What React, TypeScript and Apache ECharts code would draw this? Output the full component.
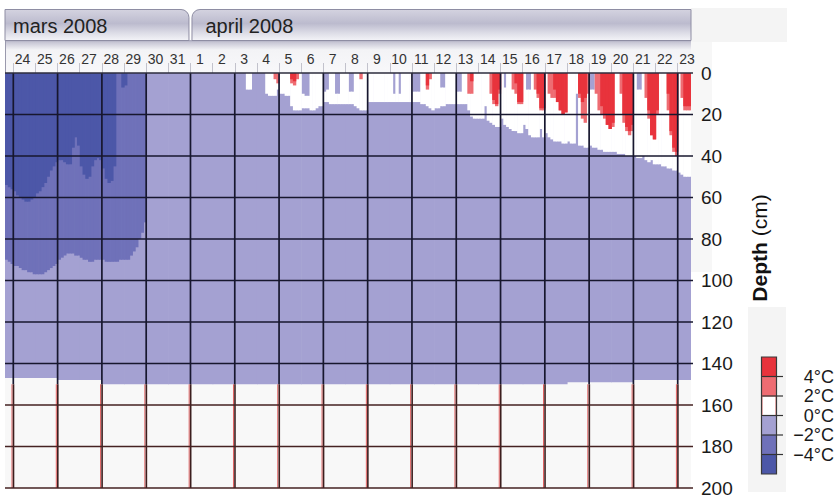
import React, { useEffect, useRef } from "react";
import * as echarts from "echarts";

const FONT = "'Liberation Sans', Arial, Helvetica, sans-serif";

// Time unit: days since 2008-03-24 00:00. Depth unit: cm.
const X_MIN = -0.375;
const X_MAX = 30.6;
const STEP = 0.125; // 3-hour slots
const DATA_DEPTH = 150;

// ---- axis / tick labels ----
const dayLabels = ["24","25","26","27","28","29","30","31","1","2","3","4","5","6","7","8","9","10","11","12","13","14","15","16","17","18","19","20","21","22","23"];
const monthLabels = ["mars 2008", "april 2008"];
const monthStarts = [-23, 8];
const monthEnds = [8, 38];
const gridDays = [0, 2, 4, 6, 8, 10, 12, 14, 16, 18, 20, 22, 24, 26, 28, 30];
const depthTicks = [0, 20, 40, 60, 80, 100, 120, 140, 160, 180, 200];
const legendLabels = ["4°C", "2°C", "0°C", "−2°C", "−4°C"];

// ---- measured profile bottom per day (Mar 23 .. Apr 23) ----
const bottomStart = -1;
const dataBottom = [
  147, 147, 147, 148, 148, // Mar 23-27
  150, 150, 150, 150, 150, 150, 150, 150, 150, 150, 150, // Mar 28 - Apr 7
  150, 150, 150, 150, 150, 150, 150, 150, 150, 150, // Apr 8-17
  149, 149, 149, 148, 148, 148, // Apr 18-23
];

// ---- cold period, 3h slots from Mar 23 12:00 ----
const coldStart = -0.5;
// bottom of the layer colder than -4 °C
const veryColdDepth = [
  54, 54, 55, 56, 57, 59, 60, 61, 62, 62,
  61, 60, 58, 57, 55, 53, 50, 47, 45, 43,
  42, 42, 43, 44, 44, 36, 31, 35, 45, 49,
  51, 50, 45, 42, 41, 42, 46, 51, 53, 52,
  45, 0, 0, 7, 6, 0, 0, 0, 0, 0,
  0, 0, 0, 0,
];
// bottom of the layer colder than -2 °C
const coldDepth = [
  90, 90, 91, 92, 93, 93, 94, 95, 95, 96,
  96, 97, 97, 97, 97, 96, 95, 94, 93, 92,
  90, 89, 88, 87, 87, 87, 88, 88, 89, 90,
  90, 91, 91, 90, 90, 90, 90, 91, 91, 91,
  91, 91, 90, 90, 90, 90, 88, 86, 84, 80,
  77, 72, 0, 0,
];

// ---- thaw period, 3h slots from Apr 3 00:00 (8 per day) ----
const warmStart = 10;
// refrozen surface layer (below 0 °C) thickness
const frostDepth = [
  0, 0, 0, 0, 0, 0, 0, 0, // Apr 3
  0, 0, 0, 0, 0, 0, 0, 0, // Apr 4
  0, 0, 0, 0, 0, 0, 0, 0, // Apr 5
  10, 11, 11, 0, 0, 0, 0, 0, // Apr 6
  9, 8, 0, 0, 10, 10, 0, 0, // Apr 7
  0, 9, 9, 0, 0, 0, 0, 0, // Apr 8
  0, 0, 0, 0, 0, 0, 0, 0, // Apr 9
  0, 10, 0, 10, 0, 0, 0, 0, // Apr 10
  9, 9, 9, 0, 0, 0, 0, 0, // Apr 11
  0, 0, 7, 7, 0, 0, 0, 0, // Apr 12
  9, 9, 0, 0, 0, 0, 0, 0, // Apr 13
  0, 0, 0, 0, 0, 0, 0, 0, // Apr 14
  0, 7, 0, 0, 0, 0, 0, 0, // Apr 15
  0, 8, 8, 0, 0, 0, 0, 0, // Apr 16
  0, 0, 0, 0, 0, 0, 0, 0, // Apr 17
  0, 0, 0, 0, 0, 0, 0, 0, // Apr 18
  8, 8, 0, 0, 0, 0, 0, 0, // Apr 19
  0, 0, 0, 0, 0, 0, 0, 0, // Apr 20
  0, 8, 8, 0, 0, 0, 0, 0, // Apr 21
  0, 0, 0, 0, 0, 0, 0, 0, // Apr 22
  0, 0, 0, 0, 0, // Apr 23
];
// bottom of the thawed (>= 0 °C) layer
const thawDepth = [
  0, 0, 0, 0, 8, 8, 0, 0, // Apr 3
  0, 0, 0, 10, 11, 11, 11, 8, // Apr 4
  10, 10, 11, 11, 16, 18, 18, 18, // Apr 5
  17, 17, 17, 18, 18, 17, 16, 16, // Apr 6
  14, 14, 15, 15, 15, 15, 15, 15, // Apr 7
  15, 15, 15, 16, 17, 18, 18, 18, // Apr 8
  14, 14, 14, 14, 14, 14, 14, 14, // Apr 9
  14, 14, 14, 14, 14, 14, 14, 14, // Apr 10
  14, 14, 14, 15, 15, 16, 17, 18, // Apr 11
  17, 17, 16, 16, 15, 15, 15, 15, // Apr 12
  15, 15, 15, 15, 18, 21, 22, 22, // Apr 13
  22, 22, 16, 23, 24, 25, 26, 26, // Apr 14
  22, 25, 26, 27, 28, 28, 29, 29, // Apr 15
  25, 27, 30, 31, 31, 31, 27, 31, // Apr 16
  29, 31, 32, 33, 33, 33, 34, 34, // Apr 17
  33, 34, 34, 10, 35, 35, 36, 36, // Apr 18
  35, 36, 36, 37, 37, 38, 38, 38, // Apr 19
  38, 38, 39, 39, 39, 40, 40, 40, // Apr 20
  40, 41, 41, 40, 42, 43, 42, 44, // Apr 21
  44, 44, 45, 45, 46, 46, 47, 47, // Apr 22
  48, 49, 50, 50, 50, // Apr 23
];
// bottom of the layer warmer than 2 °C
const warmDepth = [
  0, 0, 0, 0, 0, 0, 0, 0, // Apr 3
  0, 0, 0, 0, 0, 0, 3, 5, // Apr 4
  0, 0, 0, 0, 5, 6, 3, 0, // Apr 5
  0, 0, 0, 0, 0, 0, 0, 0, // Apr 6
  0, 0, 0, 0, 0, 0, 0, 0, // Apr 7
  0, 0, 0, 0, 0, 3, 0, 0, // Apr 8
  0, 0, 0, 0, 0, 0, 0, 0, // Apr 9
  0, 0, 0, 0, 0, 0, 0, 0, // Apr 10
  0, 0, 0, 0, 0, 8, 3, 0, // Apr 11
  0, 0, 0, 0, 0, 0, 0, 0, // Apr 12
  0, 0, 0, 0, 10, 10, 0, 0, // Apr 13
  0, 0, 0, 0, 10, 15, 16, 10, // Apr 14
  0, 0, 0, 0, 8, 10, 15, 15, // Apr 15
  0, 0, 0, 0, 8, 12, 18, 18, // Apr 16
  0, 10, 12, 12, 14, 18, 20, 19, // Apr 17
  0, 0, 0, 0, 12, 22, 24, 10, // Apr 18
  0, 0, 10, 18, 20, 22, 25, 27, // Apr 19
  26, 0, 0, 10, 24, 28, 30, 28, // Apr 20
  0, 0, 0, 0, 12, 22, 30, 32, // Apr 21
  20, 0, 0, 0, 18, 30, 38, 40, // Apr 22
  0, 12, 18, 18, 18, // Apr 23
];
// bottom of the layer warmer than 4 °C
const hotDepth = [
  0, 0, 0, 0, 0, 0, 0, 0, // Apr 3
  0, 0, 0, 0, 0, 0, 0, 0, // Apr 4
  0, 0, 0, 0, 3, 4, 0, 0, // Apr 5
  0, 0, 0, 0, 0, 0, 0, 0, // Apr 6
  0, 0, 0, 0, 0, 0, 0, 0, // Apr 7
  0, 0, 0, 0, 0, 0, 0, 0, // Apr 8
  0, 0, 0, 0, 0, 0, 0, 0, // Apr 9
  0, 0, 0, 0, 0, 0, 0, 0, // Apr 10
  0, 0, 0, 0, 0, 6, 0, 0, // Apr 11
  0, 0, 0, 0, 0, 0, 0, 0, // Apr 12
  0, 0, 0, 0, 0, 4, 0, 0, // Apr 13
  0, 0, 0, 0, 0, 13, 15, 8, // Apr 14
  0, 0, 0, 0, 0, 5, 14, 14, // Apr 15
  0, 0, 0, 0, 0, 10, 17, 17, // Apr 16
  0, 0, 0, 8, 14, 18, 20, 19, // Apr 17
  0, 0, 0, 0, 10, 14, 12, 0, // Apr 18
  0, 0, 0, 0, 16, 20, 25, 27, // Apr 19
  24, 0, 0, 0, 20, 26, 28, 25, // Apr 20
  0, 0, 0, 0, 0, 18, 30, 32, // Apr 21
  18, 0, 0, 0, 10, 28, 36, 38, // Apr 22
  0, 0, 16, 16, 16, // Apr 23
];

const C_HOT = "#e8333c";
const C_WARM = "#ee6c72";
const C_THAW = "#ffffff";
const C_FROST = "#a4a1d2";
const C_COLD = "#6f71b9";
const C_VCOLD = "#4c57a8";
const legendColors = [C_HOT, C_WARM, C_THAW, C_FROST, C_COLD, C_VCOLD];

function slotItems(start: number, bottoms: number[], tops?: number[]) {
  const out: number[][] = [];
  bottoms.forEach((b, i) => {
    const top = tops ? tops[i] : 0;
    if (b > top) out.push([start + i * STEP, start + (i + 1) * STEP, top, b]);
  });
  return out;
}

function rectRender(color: string) {
  return (_p: any, api: any) => {
    const t0 = Math.max(api.value(0), X_MIN);
    const t1 = Math.min(api.value(1), X_MAX);
    if (t1 <= t0) return null;
    const a = api.coord([t0, api.value(2)]);
    const b = api.coord([t1, api.value(3)]);
    const right = api.coord([X_MAX, 0])[0];
    const w = Math.min(b[0] + 0.6, right) - a[0];
    return {
      type: "rect",
      shape: { x: a[0], y: a[1], width: w, height: b[1] - a[1] },
      style: { fill: color },
    };
  };
}

function layer(data: number[][], color: string, z: number) {
  return {
    type: "custom",
    data,
    z,
    silent: true,
    clip: false,
    encode: { x: [0, 1], y: [2, 3] },
    renderItem: rectRender(color),
  };
}

export default function App() {
  const ref = useRef<HTMLDivElement>(null);

  useEffect(() => {
    const chart = echarts.init(ref.current!, null, { renderer: "svg" });

    const baseData = dataBottom.map((b, i) => [bottomStart + i, bottomStart + i + 1, 0, b]);

    const tabFill = new echarts.graphic.LinearGradient(0, 0, 0, 1, [
      { offset: 0, color: "#d4d3e0" },
      { offset: 0.45, color: "#bcbbce" },
      { offset: 0.75, color: "#dcdce6" },
      { offset: 1, color: "#f4f4f8" },
    ]);

    const legendTop = 357;
    const blockH = 19.5;
    const legendGraphics: any[] = [
      { type: "rect", shape: { x: 748, y: 307, width: 38, height: 185 }, style: { fill: "#f4f4f4" }, z: -1 },
      { type: "rect", shape: { x: 691, y: 8, width: 96, height: 34 }, style: { fill: "#f4f4f4" }, z: -1 },
      { type: "rect", shape: { x: 691, y: 42, width: 21, height: 230 }, style: { fill: "#f7f7f7" }, z: -1 },
      {
        type: "rect",
        shape: { x: 5, y: 40, width: 686, height: 33 },
        style: {
          fill: new echarts.graphic.LinearGradient(0, 0, 0, 1, [
            { offset: 0, color: "#a9a8bd" },
            { offset: 0.08, color: "#c9c8d6" },
            { offset: 0.3, color: "#f3f3f6" },
            { offset: 1, color: "#f8f8fa" },
          ]),
        },
        z: -1,
      },
      { type: "line", shape: { x1: 5.5, y1: 9, x2: 5.5, y2: 73 }, style: { stroke: "#9a99ad", lineWidth: 1 } },
    ];
    legendColors.forEach((c, i) => {
      legendGraphics.push({
        type: "rect",
        shape: { x: 762, y: legendTop + i * blockH, width: 14, height: blockH },
        style: c === C_THAW ? { fill: c, stroke: "#e26868", lineWidth: 1 } : { fill: c },
      });
    });
    legendGraphics.push({
      type: "rect",
      shape: { x: 761.5, y: legendTop, width: 15, height: blockH * 6 },
      style: { fill: "none", stroke: "#3a3a3a", lineWidth: 1.2 },
    });
    legendLabels.forEach((lab, i) => {
      const y = legendTop + (i + 1) * blockH;
      legendGraphics.push({
        type: "line",
        shape: { x1: 762, y1: y, x2: 783, y2: y },
        style: { stroke: "#333", lineWidth: 1.2 },
      });
      legendGraphics.push({
        type: "text",
        x: 834,
        y,
        style: {
          text: lab,
          font: `18px ${FONT}`,
          fill: "#1a1a1a",
          align: "right",
          verticalAlign: "middle",
          textAlign: "right",
          textVerticalAlign: "middle",
        },
      });
    });
    legendGraphics.push({
      type: "text",
      x: 759,
      y: 248,
      rotation: Math.PI / 2,
      style: {
        text: "{b|Depth} (cm)",
        font: `21px ${FONT}`,
        fontSize: 21,
        fontFamily: FONT,
        fill: "#111",
        align: "center",
        verticalAlign: "middle",
        textAlign: "center",
        textVerticalAlign: "middle",
        rich: {
          b: { fontWeight: "bold", fontSize: 21, fontFamily: FONT, fill: "#111", color: "#111" },
        },
      },
    });

    const option: any = {
      animation: false,
      backgroundColor: "#ffffff",
      textStyle: { fontFamily: FONT },
      graphic: legendGraphics,
      grid: {
        left: 5,
        top: 73,
        width: 686,
        height: 415,
        show: true,
        backgroundColor: "#f8f8f8",
        borderWidth: 0,
        containLabel: false,
        outerBoundsMode: "none",
      },
      xAxis: {
        type: "value",
        min: X_MIN,
        max: X_MAX,
        position: "top",
        axisLine: { show: false },
        splitLine: { show: false },
        axisTick: {
          show: true,
          customValues: dayLabels.map((_, i) => i),
          length: 10,
          inside: false,
          lineStyle: { color: "#c2c2cc", width: 1 },
        },
        axisLabel: {
          customValues: dayLabels.map((_, i) => i + 0.42),
          formatter: (v: number) => dayLabels[Math.round(v - 0.42)] ?? "",
          fontSize: 14,
          fontFamily: FONT,
          color: "#333",
          margin: 7,
          showMinLabel: true,
          showMaxLabel: true,
          hideOverlap: false,
        },
      },
      yAxis: {
        type: "value",
        inverse: true,
        min: 0,
        max: 200,
        interval: 20,
        position: "right",
        axisLine: { show: false },
        axisTick: { show: false },
        splitLine: { show: false },
        axisLabel: { fontSize: 19, fontFamily: FONT, color: "#1a1a1a", margin: 10 },
      },
      series: [
        layer(baseData, C_FROST, 1),
        layer(slotItems(coldStart, coldDepth), C_COLD, 2),
        layer(slotItems(coldStart, veryColdDepth), C_VCOLD, 3),
        layer(slotItems(warmStart, thawDepth, frostDepth), C_THAW, 4),
        layer(slotItems(warmStart, warmDepth), C_WARM, 5),
        layer(slotItems(warmStart, hotDepth), C_HOT, 6),
        {
          type: "custom",
          z: 10,
          silent: true,
          clip: false,
          data: depthTicks.map((d) => [X_MIN, X_MAX, d]),
          encode: { x: [0, 1], y: 2 },
          renderItem: (_p: any, api: any) => {
            const d = api.value(2);
            const a = api.coord([X_MIN, d]);
            const b = api.coord([X_MAX, d]);
            const color = d === 0 ? "#2c2c3c" : d <= DATA_DEPTH ? "#17172e" : "#452222";
            return {
              type: "line",
              shape: { x1: a[0], y1: a[1], x2: b[0] + 2, y2: b[1] },
              style: { stroke: color, lineWidth: 1.7 },
            };
          },
        },
        {
          type: "custom",
          z: 9,
          silent: true,
          clip: false,
          data: gridDays.map((t) => [t, 0, 200]),
          encode: { x: 0, y: [1, 2] },
          renderItem: (_p: any, api: any) => {
            const t = api.value(0);
            const top = api.coord([t, 0]);
            const mid = api.coord([t, DATA_DEPTH]);
            const bot = api.coord([t, 200]);
            return {
              type: "group",
              children: [
                { type: "line", shape: { x1: top[0], y1: top[1], x2: mid[0], y2: mid[1] }, style: { stroke: "#17172e", lineWidth: 1.7 } },
                { type: "line", shape: { x1: mid[0] - 1.3, y1: mid[1], x2: bot[0] - 1.3, y2: bot[1] }, style: { stroke: "#e06060", lineWidth: 1 } },
                { type: "line", shape: { x1: mid[0] + 0.2, y1: mid[1], x2: bot[0] + 0.2, y2: bot[1] }, style: { stroke: "#3c1e1e", lineWidth: 1.6 } },
              ],
            };
          },
        },
        {
          type: "custom",
          z: 12,
          silent: true,
          clip: false,
          data: monthLabels.map((_, i) => [monthStarts[i], monthEnds[i], i]),
          encode: { x: [0, 1] },
          renderItem: (_p: any, api: any) => {
            const i = api.value(2);
            const xl = api.coord([X_MIN, 0])[0];
            const xr = api.coord([X_MAX, 0])[0];
            const s = api.value(0);
            const a = Math.max(api.coord([s, 0])[0], xl);
            const b = Math.min(api.coord([api.value(1), 0])[0], xr);
            const clipped = s < X_MIN;
            const x0 = clipped ? a : a + 1.5;
            const x1 = b < xr ? b - 1.5 : b;
            return {
              type: "group",
              children: [
                {
                  type: "rect",
                  shape: { x: x0, y: 9.5, width: x1 - x0, height: 31, r: clipped ? [0, 8, 0, 0] : [8, 0, 0, 0] },
                  style: { fill: tabFill, stroke: "#8e8da3", lineWidth: 1 },
                },
                {
                  type: "text",
                  x: a + (clipped ? 8 : 15),
                  y: 25.5,
                  style: {
                    text: monthLabels[i],
                    font: `20px ${FONT}`,
                    fill: "#222",
                    align: "left",
                    verticalAlign: "middle",
                    textAlign: "left",
                    textVerticalAlign: "middle",
                  },
                },
              ],
            };
          },
        },
      ],
    };

    chart.setOption(option);
    return () => chart.dispose();
  }, []);

  return (
    <div
      ref={ref}
      style={{ position: "fixed", left: 0, top: 0, width: 838, height: 497, background: "#fff" }}
    />
  );
}
